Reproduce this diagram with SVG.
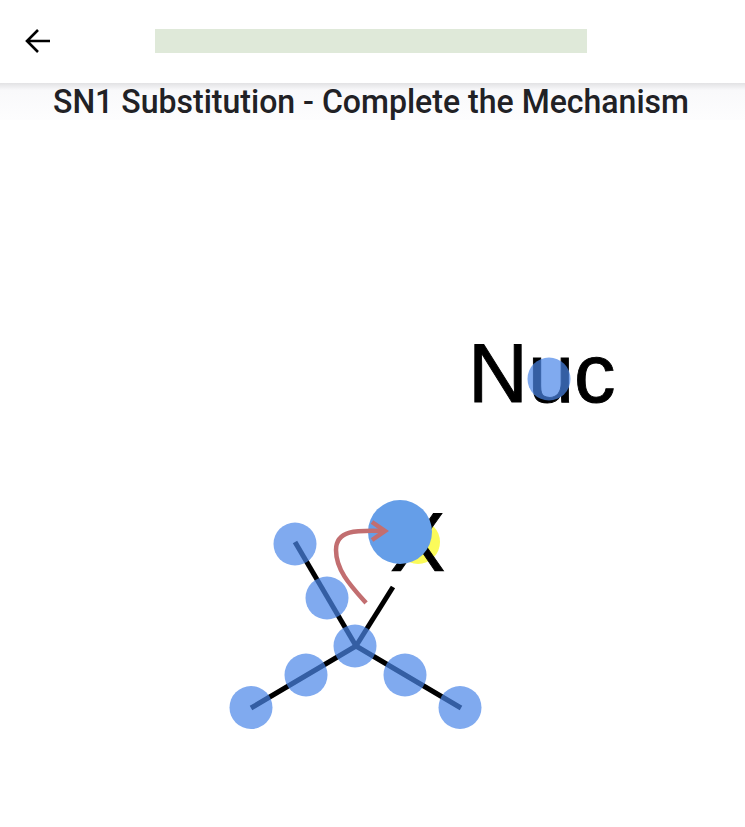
<svg xmlns="http://www.w3.org/2000/svg" width="745" height="827" viewBox="0 0 745 827">
<defs>
<linearGradient id="shade" x1="0" y1="0" x2="0" y2="1"><stop offset="0" stop-color="#e2e2e4"/><stop offset="1" stop-color="#f8f8fa"/></linearGradient>
<linearGradient id="fade" x1="0" y1="0" x2="0" y2="1"><stop offset="0" stop-color="#f8f8fa"/><stop offset="1" stop-color="#fdfdfe"/></linearGradient>
</defs>
<style>
.bond{stroke:#000;stroke-width:5;fill:none;stroke-linecap:butt}
.atom{fill:#4a86e8;fill-opacity:.7}
.big{font-family:"Liberation Sans",Arial,sans-serif;font-size:83px;fill:#000;stroke:#000;stroke-width:.9}
.title{font-family:Roboto,"Liberation Sans",sans-serif;font-size:34px;font-weight:500;fill:#212125}
.curve{fill:none;stroke:#c26e70;stroke-width:4.5}
</style>
<rect width="745" height="827" fill="#fff"/>
<g id="header">
<rect x="0" y="83" width="745" height="37" fill="url(#fade)"/>
<rect x="0" y="83" width="745" height="7" fill="url(#shade)"/>
<path d="M50 41H27M38 30L27 41L38 52" fill="none" stroke="#000" stroke-width="2.6"/>
<rect x="155" y="29" width="432" height="24" fill="#dfe9d9"/>
<text class="title" x="53" y="113" textLength="636" lengthAdjust="spacingAndGlyphs">SN1 Substitution - Complete the Mechanism</text>
</g>
<g id="node-yellow"><circle cx="418" cy="542" r="22" fill="#fbfb5a"/></g>
<g id="node-x"><text class="big" x="390" y="571">X</text></g>
<rect x="385" y="571.5" width="65" height="14" fill="#fff"/>
<g id="node-nuc"><text class="big" x="468" y="402">Nuc</text></g>
<g id="connectors">
<path class="bond" d="M295 542L356 646"/>
<path class="bond" d="M251 708L356 646L461 708"/>
<path class="bond" d="M393 587L356 646"/>
</g>
<g id="atom-1"><circle class="atom" cx="295" cy="544" r="21.5"/></g>
<g id="atom-2"><circle class="atom" cx="327" cy="598" r="21.5"/></g>
<g id="atom-3"><circle class="atom" cx="355" cy="646" r="21.5"/></g>
<g id="atom-4"><circle class="atom" cx="306" cy="675" r="21.5"/></g>
<g id="atom-5"><circle class="atom" cx="405" cy="675" r="21.5"/></g>
<g id="atom-6"><circle class="atom" cx="251" cy="707.500" r="21.5"/></g>
<g id="atom-7"><circle class="atom" cx="460" cy="707.500" r="21.5"/></g>
<g id="atom-8"><circle class="atom" cx="549" cy="379" r="21.5"/></g>
<g id="atom-big"><circle cx="400" cy="532" r="32" fill="#659ee8"/></g>
<g id="curved-arrow">
<path class="curve" d="M366 603C350 585 336 570 336 550C336 530 356 530 384 531"/>
<path class="curve" d="M372 522L385 531L372 540"/>
</g>
</svg>
